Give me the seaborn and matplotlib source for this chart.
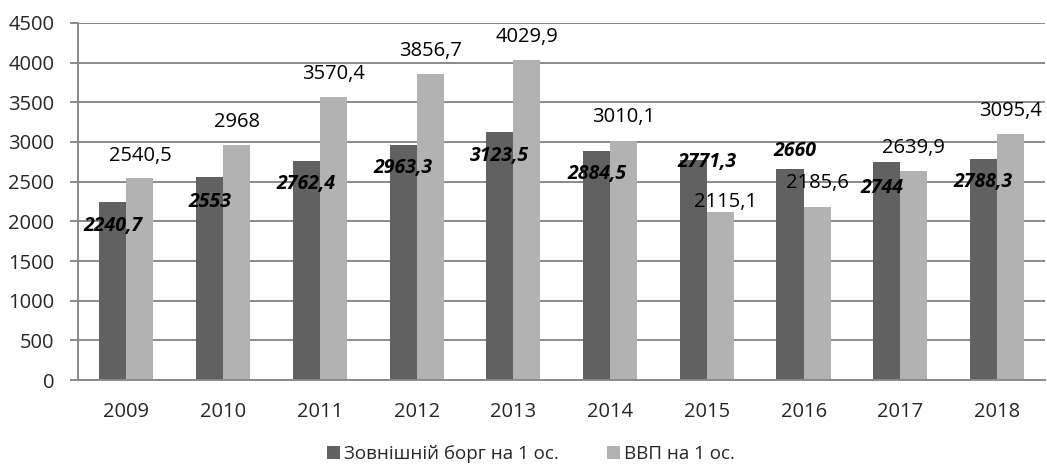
import pandas as pd
import matplotlib.pyplot as plt
import seaborn as sns

# --- Data ---
years = ['2009', '2010', '2011', '2012', '2013', '2014', '2015', '2016', '2017', '2018']
debt = [2240.7, 2553, 2762.4, 2963.3, 3123.5, 2884.5, 2771.3, 2660, 2744, 2788.3]
gdp = [2540.5, 2968, 3570.4, 3856.7, 4029.9, 3010.1, 2115.1, 2185.6, 2639.9, 3095.4]
debt_label = 'Зовнішній борг на 1 ос.'
gdp_label = 'ВВП на 1 ос.'

# label offsets in pixels (x, y) from the bar top, as moved by hand in the original
debt_offsets = [(0, -24), (0, -25), (0, -23), (0, -23), (0, -24),
                (0, -23), (14, -2), (5, 18), (-5, -26), (0, -23)]
gdp_offsets = [(0, 22), (0, 23), (0, 23), (0, 23), (0, 23),
               (0, 24), (5, 10), (0, 24), (0, 23), (0, 23)]

df = pd.DataFrame({
    'year': years * 2,
    'value': debt + gdp,
    'series': [debt_label] * len(years) + [gdp_label] * len(years),
})

sns.set_style('white')
plt.rcParams['font.family'] = ['Open Sans', 'DejaVu Sans']

fig = plt.figure(figsize=(10.47, 4.67), dpi=100)
ax = fig.add_axes([0.0745, 0.186, 0.924, 0.765])

grid_col = '#8a8a8a'
ax.set_axisbelow(True)
ax.yaxis.grid(True, color=grid_col, linewidth=1.4)

sns.barplot(data=df, x='year', y='value', hue='series',
            hue_order=[debt_label, gdp_label],
            palette=['#616161', '#b2b2b2'], width=0.56, gap=0,
            saturation=1, linewidth=0, ax=ax, legend=True)

# --- data labels ---
for bar, val, off in zip(ax.containers[0], debt, debt_offsets):
    x = bar.get_x() + bar.get_width() / 2
    ax.annotate(f'{val:g}'.replace('.', ','), (x, bar.get_height()),
                xytext=off, textcoords='offset pixels', ha='center', va='center',
                fontsize=14, fontweight='bold', fontstyle='italic', color='black')
for bar, val, off in zip(ax.containers[1], gdp, gdp_offsets):
    x = bar.get_x() + bar.get_width() / 2
    ax.annotate(f'{val:g}'.replace('.', ','), (x, bar.get_height()),
                xytext=off, textcoords='offset pixels', ha='center', va='center',
                fontsize=14.5, color='black')

# --- axes ---
ax.set_ylim(0, 4500)
ax.set_yticks(range(0, 4501, 500))
ax.set_xlim(-0.5, len(years) - 0.5)
ax.set_xlabel('')
ax.set_ylabel('')
ax.set_xticks(range(len(years)), years)
ax.set_xticks([i - 0.5 for i in range(len(years) + 1)], minor=True)
ax.tick_params(axis='x', which='major', length=0, pad=16, labelsize=14.5)
ax.tick_params(axis='x', which='minor', length=6, width=1.4, color=grid_col, direction='out')
ax.tick_params(axis='y', length=6, width=1.4, color=grid_col, pad=11, labelsize=14.5, left=True)

for side in ['top', 'right']:
    ax.spines[side].set_visible(False)
for side in ['left', 'bottom']:
    ax.spines[side].set_color(grid_col)
    ax.spines[side].set_linewidth(1.4)

handles, labels = ax.get_legend_handles_labels()
ax.get_legend().remove()
fig.legend(handles, labels, loc='center', bbox_to_anchor=(0.507, 0.027),
           ncol=2, frameon=False, fontsize=13.5, handlelength=0.7, handleheight=0.7,
           handletextpad=0.2, columnspacing=2.6)

plt.savefig('out.png', dpi=100)
